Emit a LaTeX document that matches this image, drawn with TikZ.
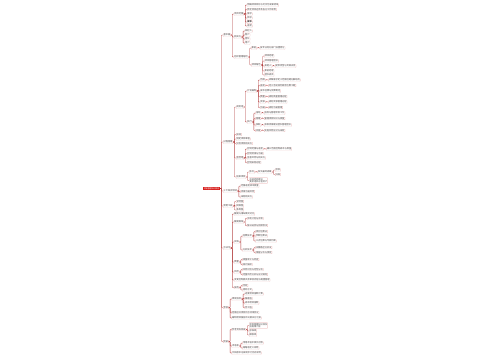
\documentclass[tikz,border=0pt]{standalone}
\usepackage{fontspec}
\newfontfamily\cjk{Noto Sans CJK SC}
\definecolor{linec}{HTML}{B23A3A}
\definecolor{boxc}{HTML}{E6A3A3}
\definecolor{txtc}{HTML}{444444}
\definecolor{rootc}{HTML}{D8201E}
\newcommand\kid[4]{%
  \path (#1.east) ++(3pt,0) coordinate (tmpk);
  \coordinate (tmpy) at (0,#3);
  \node[mm] (#2) at (tmpk |- tmpy) {#4};
  \draw[edge] (#1.east) -- ++(1.5pt,0) |- (#2.west);}
\begin{document}
\begin{tikzpicture}[x=1pt,y=-1pt,
  mm/.style={anchor=west,font=\cjk\fontsize{2.2}{2.6}\selectfont,text=txtc,
    draw=boxc,line width=0.2pt,rounded corners=0.4pt,inner xsep=0.5pt,inner ysep=0.35pt,align=left},
  rootn/.style={font=\cjk\fontsize{1.9}{2.2}\selectfont,text=white,fill=rootc,
    inner xsep=0.6pt,inner ysep=0.9pt},
  edge/.style={draw=linec,line width=0.35pt,rounded corners=0.6pt}]
\useasboundingbox (0,0) rectangle (500,360);
\fill[white] (0,0) rectangle (500,360);
\node[rootn,anchor=east] (root) at (220,188.5) {项目管理知识体系};
% ---------- L1a
\kid{root}{La}{35}{基本面}
\kid{La}{A1}{14}{项目范围}
\kid{A1}{A1a}{5}{明确项目目标与可交付成果清单}
\kid{A1}{A1b}{9.5}{界定项目边界及各方工作职责}
\kid{A1}{A1c}{14}{需求}
\kid{A1}{A1d}{18}{目标}
\kid{A1}{A1e}{22}{\textbf{成本}}
\kid{A1}{A1f}{26}{进度}
\kid{La}{A2}{37}{相关方}
\kid{A2}{A2a}{31}{发起人}
\kid{A2}{A2b}{35}{客户}
\kid{A2}{A2c}{39}{团队}
\kid{A2}{A2d}{43}{用户}
\kid{La}{A3}{57}{组织管理结构}
\kid{A3}{A3a}{48}{职能}
\kid{A3a}{A3a1}{48}{按专业划分部门设置岗位}
\kid{A3}{A3b}{65}{项目角色}
\kid{A3b}{A3b1}{56}{项目经理}
\kid{A3b}{A3b2}{61}{项目管理团队}
\kid{A3b}{A3b3}{66}{发起人}
\kid{A3b3}{A3b31}{66}{提供资金与资源支持}
\kid{A3b}{A3b4}{71}{职能经理}
\kid{A3b}{A3b5}{75}{团队成员}
% ---------- L1b
\kid{root}{Lb}{142}{过程管理}
\kid{Lb}{B1}{107}{规划组}
\kid{B1}{B1a}{91}{计划编制}
\kid{B1a}{B1a1}{80}{范围}
\kid{B1a1}{B1a1x}{80}{收集需求定义范围创建分解结构}
\kid{B1a}{B1a2}{85.5}{进度}
\kid{B1a2}{B1a2x}{85.5}{定义活动排列顺序估算工期}
\kid{B1a}{B1a3}{91}{成本估算与预算制定}
\kid{B1a}{B1a4}{96.5}{质量}
\kid{B1a4}{B1a4x}{96.5}{规划质量管理过程}
\kid{B1a}{B1a5}{102}{资源}
\kid{B1a5}{B1a5x}{102}{规划资源管理过程}
\kid{B1a}{B1a6}{107.5}{沟通}
\kid{B1a6}{B1a6x}{107.5}{规划沟通管理}
\kid{B1}{B1b}{122}{执行}
\kid{B1b}{B1b1}{113}{指导}
\kid{B1b1}{B1b1x}{113}{指导与管理项目工作}
\kid{B1b}{B1b2}{118.5}{管理}
\kid{B1b2}{B1b2x}{118.5}{管理项目知识与质量}
\kid{B1b}{B1b3}{125}{获取}
\kid{B1b3}{B1b3x}{125}{获取资源建设团队管理团队}
\kid{B1b}{B1b4}{130.5}{实施}
\kid{B1b4}{B1b4x}{130.5}{实施风险应对与采购}
\kid{Lb}{B2}{134.5}{启动}
\kid{Lb}{B3}{139}{制定项目章程}
\kid{Lb}{B4}{143.5}{识别项目相关方}
\kid{Lb}{B5}{158}{监控组}
\kid{B5}{B5a}{149}{控制范围与进度}
\kid{B5a}{B5a1}{149}{确认范围控制成本与质量}
\kid{B5}{B5b}{153.5}{控制资源与沟通}
\kid{B5}{B5c}{158}{监督风险与相关方}
\kid{B5}{B5d}{162.5}{控制采购过程}
\kid{Lb}{B6}{177}{结束项目}
\kid{B6}{B6a}{172}{移交}
\kid{B6a}{B6a1}{172}{移交最终成果}
\kid{B6a1}{B6a11}{170}{验收}
\kid{B6a1}{B6a12}{174.5}{归档}
\kid{B6}{B6b}{180.5}{总结经验教训\\更新组织过程资产}
% ---------- L1c
\kid{root}{Lc}{191}{十大知识领域}
\kid{Lc}{C1}{186}{范围进度成本质量}
\kid{Lc}{C2}{191.5}{资源沟通风险}
\kid{Lc}{C3}{197}{采购相关方}
% ---------- L1d
\kid{root}{Ld}{206}{常用工具}
\kid{Ld}{D1}{201.5}{甘特图}
\kid{Ld}{D2}{206}{网络图}
\kid{Ld}{D3}{210}{鱼骨图}
% ---------- L1e
\kid{root}{Le}{248}{方法论}
\kid{Le}{E1}{214}{敏捷与瀑布模式对比}
\kid{Le}{E2}{222}{敏捷框架}
\kid{E2}{E2a}{218.5}{冲刺计划与评审}
\kid{E2}{E2b}{225.5}{每日站会与回顾会议}
\kid{Le}{E3}{242}{实践}
\kid{E3}{E3a}{236}{估算技术}
\kid{E3a}{E3a1}{231.5}{类比估算法}
\kid{E3a}{E3a2}{236}{参数估算法}
\kid{E3a}{E3a3}{241}{三点估算与专家判断}
\kid{E3}{E3b}{250}{分析技术}
\kid{E3b}{E3b1}{247.5}{关键路径分析法}
\kid{E3b}{E3b2}{252.5}{挣值分析与预测}
\kid{Le}{E4}{262}{质量}
\kid{E4}{E4a}{259.5}{质量审计与检查}
\kid{E4}{E4b}{264.5}{统计抽样}
\kid{Le}{E5}{272}{风险}
\kid{E5}{E5a}{269.5}{风险识别与定性分析}
\kid{E5}{E5b}{274.5}{定量风险分析与应对规划}
\kid{Le}{E6}{280}{变更控制委员会审批流程与配置管理}
\kid{Le}{E7}{287.5}{采购}
\kid{E7}{E7a}{285.5}{合同}
\kid{E7}{E7b}{290}{招标方式}
% ---------- L1f
\kid{root}{Lf}{307.5}{考核}
\kid{Lf}{F1}{299}{绩效指标}
\kid{F1}{F1a}{294}{进度绩效指数计算}
\kid{F1}{F1b}{298.5}{偏差值}
\kid{F1}{F1c}{303}{成本绩效指数}
\kid{F1}{F1d}{307.5}{完工值}
\kid{Lf}{F2}{312.5}{定期召开项目状态评审会议}
\kid{Lf}{F3}{318}{编制绩效报告并向相关方汇报}
% ---------- L1g
\kid{root}{Lg}{341.5}{附录}
\kid{Lg}{G1}{329.5}{参考资料目录}
\kid{G1}{G1a}{325.5}{项目管理知识体系\\指南第六版}
\kid{G1}{G1b}{331}{标准库}
\kid{G1}{G1c}{335}{模板库}
\kid{Lg}{G2}{346}{术语表}
\kid{G2}{G2a}{343}{常用术语中英文对照}
\kid{G2}{G2b}{348}{缩略语定义说明}
\kid{Lg}{G3}{353}{文档版本记录及修订历史说明}
\end{tikzpicture}
\end{document}
